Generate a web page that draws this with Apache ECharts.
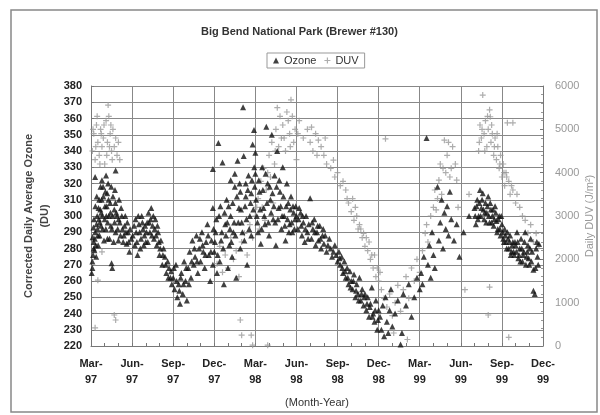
<!DOCTYPE html>
<html>
<head>
<meta charset="utf-8">
<script src="https://cdn.jsdelivr.net/npm/echarts@6/dist/echarts.min.js"></script>
<style>
html,body{margin:0;padding:0;background:#fff;}
#main{width:600px;height:415px;}
</style>
</head>
<body>
<div id="main"></div>
<script>
// month index: 0 = Mar-97 ... 33 = Dec-99
var tickLabels = ['Mar-97','Jun-97','Sep-97','Dec-97','Mar-98','Jun-98','Sep-98','Dec-98','Mar-99','Jun-99','Sep-99','Dec-99'];

var ozone97 = [
[0.1,268],[0.1,272],[0.15,276],[0.2,280],[0.2,284],[0.25,279],[0.3,290],[0.35,282],[0.4,295],[0.45,300],
[0.5,288],[0.55,305],[0.6,310],[0.65,296],[0.7,318],[0.75,302],[0.8,322],[0.85,292],[0.9,312],[1.0,298],
[1.05,315],[1.1,325],[1.15,306],[1.2,286],[1.25,320],[1.3,300],[1.4,308],[1.45,294],[1.5,271],[1.55,268],
[1.6,312],[1.7,304],[1.75,316],[1.8,290],[1.9,300],[2.0,285],[2.05,310],[2.1,296],[2.2,305],[2.3,292],
[2.4,288],[2.5,300],[2.6,283],[2.7,290],[2.8,278],[0.3,324],[1.8,328],
[0.05,265],[0.12,287],[0.18,293],[0.22,298],[0.28,286],[0.32,306],[0.38,275],[0.42,312],[0.48,292],[0.52,282],
[0.58,298],[0.62,288],[0.68,304],[0.72,294],[0.78,310],[0.82,300],[0.88,318],[0.95,285],[1.02,306],[1.08,292],
[1.12,300],[1.18,314],[1.22,296],[1.28,310],[1.35,286],[1.42,302],[1.48,318],[1.52,292],[1.58,300],[1.65,284],
[1.72,296],[1.78,308],[1.85,302],[1.95,292],[2.02,298],[2.15,288],[2.25,300],[2.35,284],[2.45,294],[2.55,290],
[2.65,296],[2.75,284],[2.85,292],[2.95,286],
[3.2,282],[3.3,290],[3.4,276],[3.5,295],[3.6,280],[3.7,300],[3.8,292],[3.9,288],[4.0,284],[4.1,296],
[4.2,302],[4.3,290],[4.4,305],[4.5,294],[4.6,286],[4.7,298],[4.8,282],[4.9,290],[5.0,276],[5.1,285],
[5.2,270],[5.3,280],[5.4,275],[5.5,265],[5.6,272],[5.7,268],[5.8,262],[5.9,258],
[3.05,288],[3.15,294],[3.25,298],[3.35,284],[3.45,300],[3.55,290],[3.65,286],[3.75,296],[3.85,282],[3.95,294],
[4.05,290],[4.15,284],[4.25,296],[4.35,298],[4.45,288],[4.55,300],[4.65,292],[4.75,288],[4.85,294],[4.95,284],
[5.05,280],[5.25,276],[5.45,270],[5.65,262],[5.85,266],
[6.0,262],[6.1,255],[6.2,270],[6.3,250],[6.4,258],[6.5,246],[6.6,265],[6.7,252],[6.8,272],[6.9,260],
[7.0,248],[7.1,268],[7.2,278],[7.3,262],[7.4,285],[7.5,270],[7.6,275],[7.7,288],[7.8,265],[7.9,280],
[8.0,272],[8.1,290],[8.2,278],[8.3,268],[8.4,284],[8.5,295],[8.6,276],[8.7,260],[8.8,285],[8.9,270],
[8.9,329],[8.9,305],
[6.05,268],[6.25,260],[6.45,254],[6.55,262],[6.75,258],[6.95,268],[7.15,258],[7.35,272],[7.55,280],[7.75,272],
[7.95,286],[8.15,282],[8.35,276],[8.55,288],[8.75,278],[8.95,292]
];

var ozone98 = [
[9.0,278],[9.1,290],[9.2,265],[9.3,345],[9.35,300],[9.4,272],[9.5,285],[9.6,333],[9.7,258],[9.8,295],
[9.9,310],[10.0,268],[10.1,282],[10.2,300],[10.3,275],[10.4,290],[10.5,318],[10.6,262],[10.7,334],[10.8,305],
[10.9,280],[11.0,296],[11.1,367],[11.15,337],[11.2,285],[11.3,312],[11.4,270],[11.5,325],[11.6,300],[11.7,288],
[11.8,344],[11.9,353],[11.95,318],[10.2,322],[10.5,326],[10.9,315],[11.3,320],[11.7,314],[12.0,326],[12.0,339],
[9.05,284],[9.15,298],[9.25,276],[9.45,306],[9.55,290],[9.65,280],[9.75,302],[9.85,288],[9.95,296],[10.05,306],
[10.15,292],[10.25,284],[10.35,308],[10.45,296],[10.55,288],[10.65,312],[10.75,296],[10.85,320],[10.95,304],[11.05,290],
[11.25,306],[11.35,298],[11.45,316],[11.55,292],[11.65,308],[11.75,322],[11.85,304],[11.92,330],
[12.1,300],[12.2,290],[12.3,315],[12.4,283],[12.5,330],[12.6,305],[12.7,295],[12.8,355],[12.9,320],[13.0,288],
[13.1,310],[13.2,350],[13.3,298],[13.4,325],[13.5,282],[13.6,340],[13.7,305],[13.8,315],[13.9,292],[14.0,330],
[14.1,300],[14.2,285],[14.3,320],[14.4,308],[14.5,295],[14.6,312],[14.7,290],[14.8,302],[14.9,298],
[12.05,310],[12.15,296],[12.25,322],[12.35,304],[12.45,292],[12.55,316],[12.65,300],[12.75,326],[12.85,308],[12.95,296],
[13.05,318],[13.15,302],[13.25,314],[13.35,306],[13.45,296],[13.55,318],[13.65,298],[13.75,322],[13.85,306],[13.95,300],
[14.05,312],[14.15,294],[14.25,306],[14.35,298],[14.45,290],[14.55,304],[14.65,296],[14.75,306],[14.85,292],[14.95,306],
[15.0,300],[15.1,292],[15.2,305],[15.3,302],[15.4,288],[15.5,296],[15.6,284],[15.7,300],[15.8,290],[15.9,295],
[16.0,311],[16.1,286],[16.2,292],[16.3,298],[16.4,282],[16.5,290],[16.6,285],[16.7,294],[16.8,280],[16.9,288],
[17.0,283],[17.2,278],[17.4,286],[17.6,275],[17.8,282],[18.0,272],
[15.15,298],[15.35,294],[15.45,300],[15.65,292],[15.85,286],[16.15,296],[16.35,290],[16.55,294],[16.75,286],[16.95,292],
[17.1,288],[17.3,282],[17.5,280],[17.7,278],[17.9,276],
[18.1,278],[18.2,270],[18.3,275],[18.4,265],[18.5,272],[18.6,262],[18.7,268],[18.8,258],[18.9,266],[19.0,260],
[19.1,255],[19.2,264],[19.3,250],[19.4,258],[19.5,252],[19.6,262],[19.7,248],[19.8,255],[19.9,245],[20.0,252],
[20.1,242],[20.2,250],[20.3,238],[20.4,246],[20.5,256],[20.6,240],[20.7,235],[20.8,248],[20.9,230],[21.0,242],
[18.15,274],[18.35,268],[18.55,266],[18.75,262],[18.95,256],[19.15,260],[19.35,254],[19.55,248],[19.75,252],[19.95,250],
[20.15,246],[20.35,244],[20.55,238],[20.75,242],[20.95,236]
];

var ozone99 = [
[21.1,238],[21.2,230],[21.3,245],[21.4,226],[21.5,250],[21.6,235],[21.7,228],[21.8,242],[21.9,255],[22.0,232],
[22.2,240],[22.4,248],[22.6,221],[22.7,228],[22.8,252],[23.0,245],[23.2,258],[23.4,238],[23.6,250],[23.8,262],
[24.0,255],
[24.1,265],[24.2,258],[24.3,275],[24.5,348],[24.6,270],[24.7,282],[24.8,262],[24.9,290],[25.0,276],[25.1,268],
[25.3,318],[25.4,285],[25.5,296],[25.6,310],[25.7,280],[25.8,302],[25.9,292],[26.0,306],[26.1,288],[26.2,315],
[26.3,298],[26.5,285],[26.7,295],[26.9,275],
[27.2,290],[27.6,300],[28.0,305],[28.1,295],[28.2,310],[28.3,300],[28.4,316],[28.5,305],[28.6,314],[28.7,298],
[28.8,308],[28.9,302],[29.0,312],[29.1,296],[29.2,304],[29.3,300],[29.4,294],[29.5,306],[29.6,297],[29.7,292],
[29.8,300],[29.9,288],[30.0,295],[30.1,286],[30.2,292],[30.3,284],[30.4,290],[30.5,280],[30.6,288],[30.7,278],
[30.8,284],[30.9,276],[31.0,282],[31.1,290],[31.2,274],[31.3,280],[31.4,286],[31.5,272],[31.6,278],[31.7,290],
[31.8,275],[31.9,282],[32.0,270],[32.1,286],[32.2,278],[32.3,267],[32.3,254],[32.4,252],[32.5,280],[32.6,275],
[32.7,283],
[28.05,300],[28.15,306],[28.25,298],[28.35,308],[28.45,300],[28.55,310],[28.65,304],[28.75,302],[28.85,296],[28.95,306],
[29.05,300],[29.15,308],[29.25,296],[29.35,304],[29.45,298],[29.55,302],[29.65,290],[29.75,298],[29.85,292],[29.95,300],
[30.05,290],[30.15,284],[30.25,288],[30.35,280],[30.45,286],[30.55,284],[30.65,276],[30.75,282],[30.85,278],[30.95,284],
[31.05,278],[31.15,284],[31.25,276],[31.35,272],[31.45,280],[31.55,276],[31.65,284],[31.75,270],[31.85,278],[31.95,274],
[32.05,280],[32.15,272],[32.45,268],[32.55,284],[32.65,270]
];

var duv97 = [
[0.1,4500],[0.2,4900],[0.3,4300],[0.4,5100],[0.5,4700],[0.6,4400],[0.7,5000],[0.8,4600],[0.9,4800],[1.0,4200],
[1.1,5200],[1.2,4700],[1.25,5560],[1.3,5300],[1.4,4900],[1.5,4500],[1.6,5000],[1.7,4600],[1.8,4800],[1.9,4400],
[2.0,4700],[2.1,4300],[0.5,1520],[0.8,2170],[1.7,715],[1.8,600],[0.3,420],
[0.15,5000],[0.35,4600],[0.45,5300],[0.65,4200],[0.75,4900],[0.95,5100],[1.15,4400],[1.35,4600],[1.45,5100],[1.55,4300],
[9.2,1900],[9.4,2300],[9.6,1700],[9.8,2100],[10.0,1800],[10.2,2500],[10.4,2000],[10.6,2200],[10.8,1600],[11.0,2400],
[11.2,2600],[11.4,2100],[11.6,2800],[11.8,2500],[10.9,600],[11.0,250],[11.7,250],[11.8,20]
];

var duv98 = [
[12.9,20],[12.0,3000],[12.2,3400],[12.4,3800],[12.5,3200],[12.6,4100],[12.8,3600],[13.0,4400],[13.1,3900],[13.2,4700],
[13.4,4200],[13.5,5000],[13.6,5500],[13.7,4600],[13.8,5300],[13.9,4800],[14.0,5100],[14.2,4500],[14.3,5400],[14.5,4900],
[14.6,5680],[14.7,5300],[14.8,4700],[14.9,5000],[15.0,4300],[15.2,5200],[12.3,2700],[12.7,2900],[13.3,3300],
[12.1,3200],[12.9,4000],[13.45,4500],[14.1,4800],[14.4,5200],[14.55,4600],[15.1,4900],
[15.5,4800],[15.8,5000],[16.0,4700],[16.1,5050],[16.2,4500],[16.4,4900],[16.5,4400],[16.6,4750],[16.8,4600],[17.0,4400],
[17.1,4800],[17.2,4200],[17.5,4100],[17.7,4290],[17.8,3900],[18.0,4000],[18.2,3700],[18.4,3800],[18.6,3600],[18.7,3400],
[18.8,3300],[19.0,3100],[19.1,3400],[19.2,2900],[19.4,3000],[19.5,2700],[19.6,2800],[19.8,2500],[19.9,2600],[20.0,2300],
[20.2,2200],[20.3,2400],[20.4,2000],[20.6,1800],[20.7,2100],[20.8,1600],[21.0,1500],[21.1,1700],[21.2,1300],
[19.3,3200],[19.7,2700],[20.1,2500],[20.5,2100],[20.9,1800]
];

var duv99 = [
[21.4,1100],[21.5,4780],[21.6,900],[21.8,1200],[22.0,700],[22.2,1000],[22.4,1400],[22.6,800],[22.8,1300],[23.0,1600],
[23.2,1100],[23.4,1800],[23.6,1500],[23.8,2000],[24.0,1700],[22.1,300],[23.1,150],
[24.2,2200],[24.4,2600],[24.6,2400],[24.8,3000],[25.0,3200],[25.1,3600],[25.2,3140],[25.4,3830],[25.5,4200],[25.6,3500],
[25.8,4750],[25.9,4000],[26.0,4400],[26.2,3900],[26.4,4600],[26.6,4200],[26.7,3830],[26.8,3200],
[24.5,2800],[25.3,3400],[25.7,4100],[26.1,4700],[26.3,4100],
[27.3,1300],[27.6,3500],
[28.3,4500],[28.4,5100],[28.5,4800],[28.6,5790],[28.7,4900],[28.8,5200],[28.9,4600],[29.0,5000],[29.1,5450],[29.15,5290],
[29.2,4700],[29.3,4900],[29.4,4400],[29.5,4800],[29.6,4300],[29.7,4600],[29.8,4100],[29.9,4400],[30.0,3900],[30.1,4200],
[30.2,3700],[30.3,4000],[30.5,3800],[30.6,3500],[30.8,3600],[31.0,3300],[31.3,3200],[31.5,3000],[30.8,5150],[30.4,5150],
[28.35,4700],[28.55,5000],[28.75,4500],[28.95,5300],[29.25,5100],[29.45,4600],[29.65,4900],[29.85,4200],[30.15,4000],[30.35,3900],
[30.7,3700],[31.1,3500],
[29.1,1360],[29.0,715],[30.5,200],
[31.7,2900],[31.9,2600],[32.1,2800],[32.3,2400],[32.5,2600],[32.7,2300]
];

var chartDom = document.getElementById('main');
var myChart = echarts.init(chartDom);
var font = 'Liberation Sans, Arial, sans-serif';
var plusPath = 'path://M4,0H6V4H10V6H6V10H4V6H0V4H4Z';

var option = {
	animation: false,
	textStyle: { fontFamily: font },
	title: {
		text: 'Big Bend National Park (Brewer #130)',
		left: 201,
		top: 26,
		padding: 0,
		textStyle: { fontSize: 11, fontWeight: 'bold', color: '#333', fontFamily: font }
	},
	legend: {
		left: 267,
		top: 53,
		data: ['Ozone', 'DUV'],
		itemWidth: 6,
		itemHeight: 6,
		itemGap: 8,
		padding: [2, 6],
		borderColor: '#999',
		borderWidth: 1,
		textStyle: { fontSize: 11, color: '#333', fontFamily: font }
	},
	grid: { left: 91, right: 57, top: 86, bottom: 69, outerBoundsMode: 'none' },
	xAxis: {
		type: 'value',
		min: 0,
		max: 33,
		interval: 3,
		name: '(Month-Year)',
		nameLocation: 'middle',
		nameGap: 51,
		nameTextStyle: { fontSize: 11, color: '#333', fontFamily: font },
		axisLine: { lineStyle: { color: '#777' } },
		axisTick: { show: true, inside: true, length: 3, lineStyle: { color: '#777' } },
		minorTick: { show: true, splitNumber: 3, length: 3, lineStyle: { color: '#777' } },
		splitLine: { show: true, lineStyle: { color: '#888', width: 1 } },
		axisLabel: {
			margin: 10,
			fontSize: 11,
			fontWeight: 'bold',
			color: '#222',
			lineHeight: 16,
			formatter: function (v) {
				var s = tickLabels[Math.round(v / 3)] || '';
				return s.replace('-', '-\n');
			}
		}
	},
	yAxis: [{
		type: 'value',
		min: 220,
		max: 380,
		interval: 10,
		name: 'Corrected Daily Average Ozone\n(DU)',
		nameLocation: 'middle',
		nameGap: 35,
		nameTextStyle: { fontSize: 11, fontWeight: 'bold', color: '#444', lineHeight: 16, fontFamily: font },
		axisLine: { show: true, lineStyle: { color: '#777' } },
		axisTick: { show: true, inside: true, length: 3, lineStyle: { color: '#777' } },
		splitLine: { show: true, lineStyle: { color: '#888', width: 1 } },
		axisLabel: { fontSize: 11, fontWeight: 'bold', color: '#222', margin: 9 }
	}, {
		type: 'value',
		min: 0,
		max: 6000,
		interval: 1000,
		axisLine: { show: true, lineStyle: { color: '#777' } },
		axisTick: { show: true, inside: true, length: 3, lineStyle: { color: '#777' } },
		minorTick: { show: true, splitNumber: 5, length: 2, lineStyle: { color: '#999' } },
		splitLine: { show: false },
		axisLabel: {
			fontSize: 11, color: '#999', margin: 12,
			formatter: function (v) { return String(v); }
		}
	}],
	graphic: [{
		type: 'rect',
		shape: { x: 11, y: 10, width: 586, height: 402 },
		style: { fill: 'none', stroke: '#888', lineWidth: 1.5 },
		silent: true
	}, {
		// right axis title, placed by hand so it stays inside the frame
		type: 'text',
		x: 590,
		y: 216,
		rotation: Math.PI / 2,
		silent: true,
		style: {
			text: 'Daily DUV (J/m\u00B2)',
			fill: '#999',
			font: '11px ' + font,
			align: 'center',
			verticalAlign: 'middle'
		}
	}],
	series: [{
		name: 'DUV',
		type: 'scatter',
		yAxisIndex: 1,
		symbol: plusPath,
		symbolSize: 6,
		itemStyle: { color: '#999' },
		data: duv97.concat(duv98, duv99)
	}, {
		name: 'Ozone',
		type: 'scatter',
		yAxisIndex: 0,
		symbol: 'triangle',
		symbolSize: 6,
		itemStyle: { color: '#111' },
		data: ozone97.concat(ozone98, ozone99)
	}]
};

option && myChart.setOption(option);
</script>
</body>
</html>
